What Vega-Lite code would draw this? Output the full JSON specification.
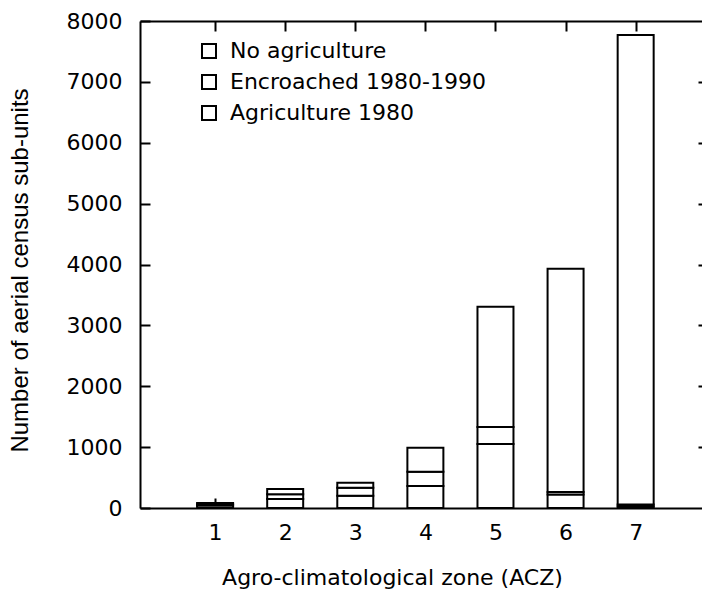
{
  "$schema": "https://vega.github.io/schema/vega-lite/v6.json",
  "autosize": {"type": "none"},
  "padding": {"left": 140, "top": 21, "right": 0, "bottom": 81},
  "width": 562,
  "height": 487,
  "background": "white",
  "config": {
    "view": {"stroke": null},
    "axis": {
      "grid": false,
      "domainColor": "black",
      "domainWidth": 2,
      "tickColor": "black",
      "tickWidth": 2,
      "labelColor": "black",
      "titleColor": "black",
      "labelFont": "DejaVu Sans",
      "labelFontSize": 22,
      "titleFont": "DejaVu Sans",
      "titleFontSize": 22,
      "titleFontWeight": "normal"
    }
  },
  "data": {
    "values": [
      {"zone": 1, "category": "Agriculture 1980", "count": 40},
      {"zone": 1, "category": "Encroached 1980-1990", "count": 20},
      {"zone": 1, "category": "No agriculture", "count": 22},
      {"zone": 2, "category": "Agriculture 1980", "count": 148},
      {"zone": 2, "category": "Encroached 1980-1990", "count": 77},
      {"zone": 2, "category": "No agriculture", "count": 87},
      {"zone": 3, "category": "Agriculture 1980", "count": 202},
      {"zone": 3, "category": "Encroached 1980-1990", "count": 132},
      {"zone": 3, "category": "No agriculture", "count": 82},
      {"zone": 4, "category": "Agriculture 1980", "count": 361},
      {"zone": 4, "category": "Encroached 1980-1990", "count": 235},
      {"zone": 4, "category": "No agriculture", "count": 394},
      {"zone": 5, "category": "Agriculture 1980", "count": 1051},
      {"zone": 5, "category": "Encroached 1980-1990", "count": 279},
      {"zone": 5, "category": "No agriculture", "count": 1976},
      {"zone": 6, "category": "Agriculture 1980", "count": 222},
      {"zone": 6, "category": "Encroached 1980-1990", "count": 41},
      {"zone": 6, "category": "No agriculture", "count": 3667},
      {"zone": 7, "category": "Agriculture 1980", "count": 25},
      {"zone": 7, "category": "Encroached 1980-1990", "count": 32},
      {"zone": 7, "category": "No agriculture", "count": 7713}
    ]
  },
  "resolve": {"axis": {"x": "independent", "y": "independent"}},
  "layer": [
    {
      "mark": {"type": "bar", "size": 36, "stroke": "black", "strokeWidth": 2, "clip": false},
      "encoding": {
        "x": {
          "field": "zone", "type": "quantitative",
          "scale": {"domain": [0, 7.875], "nice": false, "zero": false},
          "axis": {
            "orient": "bottom", "values": [1, 2, 3, 4, 5, 6, 7], "tickSize": -10,
            "labelPadding": 24, "labelFlush": false,
            "title": "Agro-climatological zone (ACZ)",
            "titleX": 252, "titleY": 69, "titleAlign": "center", "titleBaseline": "middle", "titleAnchor": null
          }
        },
        "y": {
          "field": "count", "type": "quantitative", "stack": "zero",
          "scale": {"domain": [0, 8000], "nice": false},
          "axis": {
            "orient": "left", "values": [0, 1000, 2000, 3000, 4000, 5000, 6000, 7000, 8000],
            "format": "d",
            "tickSize": -10, "labelPadding": 28, "labelFlush": false,
            "title": "Number of aerial census sub-units",
            "titleFont": "Liberation Sans", "titleFontSize": 24,
            "titleX": -120, "titleY": 249, "titleAngle": -90,
            "titleAlign": "center", "titleBaseline": "middle"
          }
        },
        "order": {"field": "category", "sort": "ascending"},
        "fill": {
          "field": "category", "type": "nominal",
          "scale": {
            "domain": ["No agriculture", "Encroached 1980-1990", "Agriculture 1980"],
            "range": ["white", "white", "white"]
          },
          "legend": {
            "orient": "none", "legendX": 58, "legendY": 19, "title": null,
            "symbolType": "square", "symbolSize": 196,
            "symbolStrokeColor": "black", "symbolStrokeWidth": 2,
            "labelFont": "DejaVu Sans", "labelFontSize": 22, "labelColor": "black",
            "labelLimit": 400,
            "rowPadding": 9, "labelOffset": 10
          }
        }
      }
    },
    {
      "mark": {"type": "bar", "size": 36, "opacity": 0},
      "encoding": {
        "x": {
          "field": "zone", "type": "quantitative",
          "axis": {"orient": "top", "values": [1, 2, 3, 4, 5, 6, 7], "tickSize": -10, "labels": false, "title": null}
        },
        "y": {
          "field": "count", "type": "quantitative", "stack": null,
          "axis": {"orient": "right", "values": [1000, 2000, 3000, 4000, 5000, 6000, 7000], "tickSize": -4, "domain": false, "labels": false, "title": null}
        }
      }
    }
  ]
}
